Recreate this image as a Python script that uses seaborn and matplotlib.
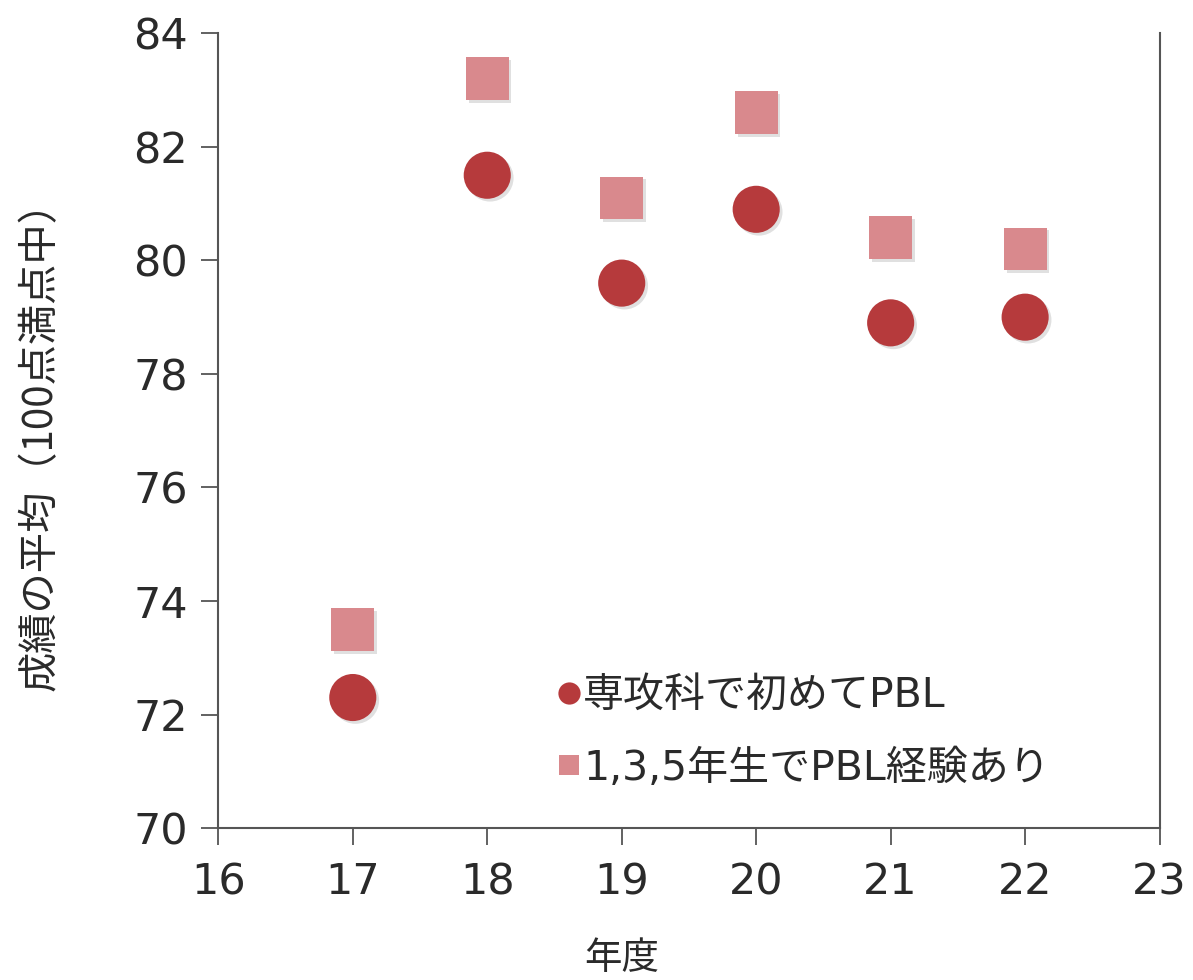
import matplotlib
matplotlib.use("Agg")
import matplotlib.pyplot as plt
import matplotlib.patheffects as pe
import seaborn as sns
import pandas as pd
from matplotlib.lines import Line2D

years = [17, 18, 19, 20, 21, 22]
first_pbl = [72.3, 81.5, 79.6, 80.9, 78.9, 79.0]
prior_pbl = [73.5, 83.2, 81.1, 82.6, 80.4, 80.2]
series_names = ["専攻科で初めてPBL", "1,3,5年生でPBL経験あり"]
xticks = [16, 17, 18, 19, 20, 21, 22, 23]
yticks = [70, 72, 74, 76, 78, 80, 82, 84]

sns.set_theme(style="white")
plt.rcParams['font.family'] = ['DejaVu Sans', 'Noto Sans CJK JP']

df = pd.DataFrame({
    "year": years * 2,
    "score": first_pbl + prior_pbl,
    "group": [series_names[0]] * len(years) + [series_names[1]] * len(years),
})

colors = {series_names[0]: "#B63A3C", series_names[1]: "#D9898D"}
markers = {series_names[0]: "o", series_names[1]: "s"}
sizes = {series_names[0]: 1150, series_names[1]: 950}

fig = plt.figure(figsize=(11.93, 9.8), dpi=100)
ax = fig.add_axes([0.183, 0.155, 0.789, 0.811])

shadow = [pe.SimplePatchShadow(offset=(2, -2), shadow_rgbFace="#000000", alpha=0.12), pe.Normal()]
for name in series_names:
    sub = df[df["group"] == name]
    sns.scatterplot(data=sub, x="year", y="score", ax=ax, color=colors[name],
                    marker=markers[name], s=sizes[name],
                    edgecolor="none", linewidth=0, legend=False, zorder=3)
for coll in ax.collections:
    coll.set_path_effects(shadow)

ax.set_xlim(16, 23)
ax.set_ylim(70, 84)
ax.set_xticks(xticks)
ax.set_yticks(yticks)
ax.set_xticklabels([str(t) for t in xticks], fontsize=31, color="#2a2a2a")
ax.set_yticklabels([str(t) for t in yticks], fontsize=31, color="#2a2a2a")
ax.tick_params(axis="both", which="both", bottom=True, left=True, direction="out",
               length=12, width=1.3, color="#555555")
ax.tick_params(axis="x", pad=12)
ax.tick_params(axis="y", pad=10)
ax.spines["top"].set_visible(False)
for sp in ["left", "bottom", "right"]:
    ax.spines[sp].set_color("#555555")
    ax.spines[sp].set_linewidth(1.5)

ax.set_xlabel("年度", fontsize=27, color="#2a2a2a",
              family=['Noto Sans CJK JP', 'DejaVu Sans'])
ax.xaxis.set_label_coords(0.429, -0.14)
ax.set_ylabel("成績の平均（100点満点中）", fontsize=29, color="#2a2a2a",
              family=['Noto Sans CJK JP', 'DejaVu Sans'])
ax.yaxis.set_label_coords(-0.211, 0.493)
ax.yaxis.label.set_verticalalignment("top")

handles = [
    Line2D([0], [0], marker="o", linestyle="none", markersize=16,
           markerfacecolor=colors[series_names[0]], markeredgewidth=0),
    Line2D([0], [0], marker="s", linestyle="none", markersize=15,
           markerfacecolor=colors[series_names[1]], markeredgewidth=0),
]
leg = ax.legend(handles, series_names, loc="lower left", bbox_to_anchor=(0.333, 0.029),
                frameon=False, fontsize=29.5, handletextpad=-0.15, labelspacing=0.8,
                handlelength=1.0, borderaxespad=0)
for t in leg.get_texts():
    t.set_color("#2a2a2a")

fig.savefig("out.png", dpi=100)
